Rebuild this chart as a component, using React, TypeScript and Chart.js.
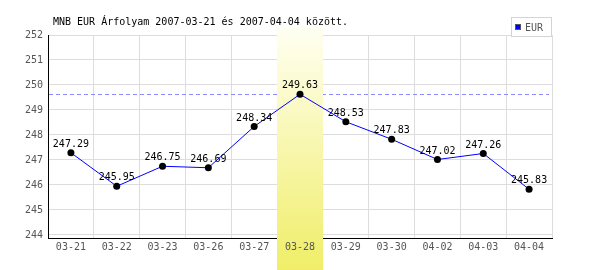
import React, { useEffect, useRef } from "react";
import { Chart, registerables } from "chart.js";

Chart.register(...registerables);

const titleText = "MNB EUR Árfolyam 2007-03-21 és 2007-04-04 között.";
const seriesName = "EUR";
const categories = ["03-21", "03-22", "03-23", "03-26", "03-27", "03-28", "03-29", "03-30", "04-02", "04-03", "04-04"];
const eurValues = [247.29, 245.95, 246.75, 246.69, 248.34, 249.63, 248.53, 247.83, 247.02, 247.26, 245.83];
const yTickValues = [244, 245, 246, 247, 248, 249, 250, 251, 252];
const highlightCategory = "03-28";
const referenceValue = 249.63;

const FONT = "DejaVu Sans Mono";

const overlayPlugin = {
  id: "overlay",
  beforeDatasetsDraw(chart: any) {
    const { ctx, chartArea, scales } = chart;
    const x = scales.x;
    const y = scales.y;
    // dashed reference line
    ctx.save();
    ctx.strokeStyle = "#8c8cff";
    ctx.lineWidth = 1;
    ctx.setLineDash([4, 3]);
    const ry = Math.round(y.getPixelForValue(referenceValue)) + 0.5;
    ctx.beginPath();
    ctx.moveTo(chartArea.left + 1, ry);
    ctx.lineTo(chartArea.right - 3, ry);
    ctx.stroke();
    ctx.restore();
    // highlight band
    const idx = categories.indexOf(highlightCategory);
    const step = x.getPixelForValue(1) - x.getPixelForValue(0);
    const cx = x.getPixelForValue(idx);
    const left = Math.round(cx - step / 2);
    const right = Math.round(cx + step / 2);
    const top = 28;
    const bottom = chart.height;
    const g = ctx.createLinearGradient(0, top, 0, bottom);
    g.addColorStop(0, "#fffff2");
    g.addColorStop(1, "#f0ee68");
    ctx.save();
    ctx.fillStyle = g;
    ctx.fillRect(left, top, right - left, bottom - top);
    ctx.restore();
  },
  afterDatasetsDraw(chart: any) {
    const { ctx } = chart;
    const meta = chart.getDatasetMeta(0);
    ctx.save();
    ctx.font = `10px "${FONT}"`;
    ctx.fillStyle = "#000";
    ctx.textAlign = "center";
    ctx.textBaseline = "alphabetic";
    meta.data.forEach((pt: any, i: number) => {
      ctx.fillText(eurValues[i].toFixed(2), pt.x, pt.y - 6);
    });
    ctx.restore();
  },
  afterDraw(chart: any) {
    const { ctx } = chart;
    ctx.save();
    // title
    ctx.font = `10px "${FONT}"`;
    ctx.fillStyle = "#000";
    ctx.textAlign = "left";
    ctx.textBaseline = "alphabetic";
    ctx.fillText(titleText, 53, 25);
    // legend
    ctx.fillStyle = "#fff";
    ctx.fillRect(511, 17, 41, 20);
    ctx.strokeStyle = "#d4d4d4";
    ctx.lineWidth = 1;
    ctx.strokeRect(511.5, 17.5, 40, 19);
    ctx.fillStyle = "#0000ff";
    ctx.fillRect(515, 24, 6, 6);
    ctx.strokeStyle = "#555";
    ctx.strokeRect(515.5, 24.5, 5, 5);
    ctx.fillStyle = "#555";
    ctx.fillText(seriesName, 525, 31);
    ctx.restore();
  },
};

export default function App() {
  const ref = useRef<HTMLCanvasElement | null>(null);
  useEffect(() => {
    if (!ref.current) return;
    const chart = new Chart(ref.current, {
      type: "line",
      data: {
        labels: categories,
        datasets: [
          {
            label: seriesName,
            data: eurValues,
            borderColor: "#0000ff",
            borderWidth: 1,
            tension: 0,
            pointRadius: 3.5,
            pointBackgroundColor: "#000",
            pointBorderColor: "#000",
            pointBorderWidth: 0,
          },
        ],
      },
      options: {
        responsive: false,
        animation: false,
        devicePixelRatio: 1,
        layout: { padding: { left: 0, right: 48, top: 35, bottom: 0 } },
        plugins: {
          legend: { display: false },
          title: { display: false },
          tooltip: { enabled: false },
        },
        scales: {
          x: {
            type: "category",
            offset: true,
            grid: { offset: true, color: "#dddddd", drawTicks: false },
            border: { color: "#000", width: 1 },
            ticks: {
              color: "#555",
              font: { family: FONT, size: 10 },
              padding: 3,
              maxRotation: 0,
              autoSkip: false,
              z: 1,
            },
            afterFit(scale: any) {
              scale.height = 32;
            },
          },
          y: {
            min: 243.88,
            max: 252,
            grid: { color: "#dddddd", drawTicks: false },
            border: { color: "#000", width: 1 },
            ticks: {
              color: "#555",
              font: { family: FONT, size: 10 },
              padding: 5,
              z: 1,
            },
            afterBuildTicks(scale: any) {
              scale.ticks = yTickValues.map((v) => ({ value: v }));
            },
            afterFit(scale: any) {
              scale.width = 48;
            },
          },
        },
      },
      plugins: [overlayPlugin],
    } as any);
    return () => chart.destroy();
  }, []);
  return (
    <div style={{ position: "absolute", left: 0, top: 0, width: 600, height: 270, background: "#fff" }}>
      <canvas ref={ref} width={600} height={270} style={{ width: 600, height: 270, display: "block" }} />
    </div>
  );
}
